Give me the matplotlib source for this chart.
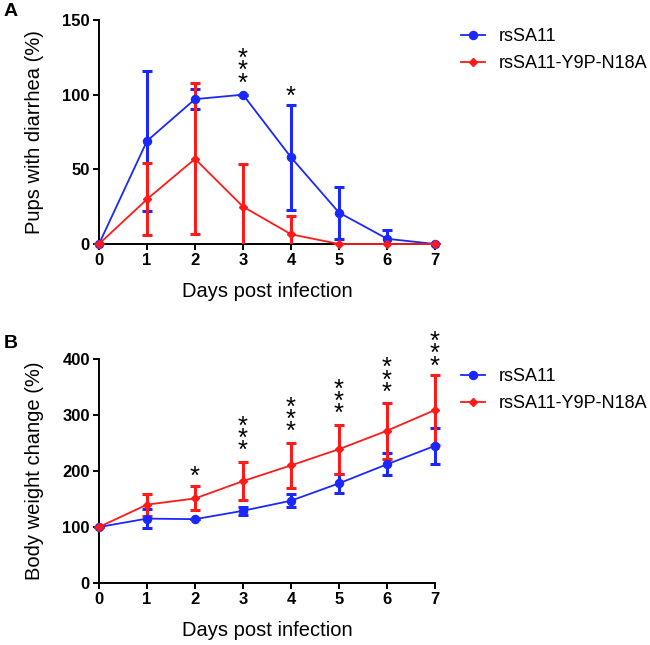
import matplotlib
matplotlib.use("Agg")
import matplotlib.pyplot as plt
from matplotlib.patches import Rectangle

plt.rcParams["font.family"] = ["Arial", "Liberation Sans", "DejaVu Sans"]

# =========================
# Data
# =========================
days = [0, 1, 2, 3, 4, 5, 6, 7]
labels = ["rsSA11", "rsSA11-Y9P-N18A"]

# Panel A: pups with diarrhea (%)
diar_wt = [0, 69, 97, 100, 58, 21, 3.5, 0]
diar_wt_err = [0, 47, 6.5, 0, 35, 17.5, 6, 0]
diar_mut = [0, 30, 57, 25, 6.5, 0, 0, 0]
diar_mut_err = [0, 24, 50.5, 28.5, 12.5, 0, 0, 0]
stars_a = {3: 3, 4: 1}            # day -> number of asterisks
stars_a_y = {3: 120.5, 4: 103.5}  # centre of the asterisk stack

# Panel B: body weight change (%)
bw_wt = [100, 115, 114, 129, 147, 178, 212, 245]
bw_wt_err = [0, 17, 0, 7, 12, 17, 20, 32]
bw_mut = [100, 140, 151, 182, 210, 239, 272, 309]
bw_mut_err = [0, 19.5, 21.5, 34, 40, 44, 50, 62]
stars_b = {2: 1, 3: 3, 4: 3, 5: 3, 6: 3, 7: 3}
stars_b_y = {2: 203.5, 3: 270, 4: 304, 5: 336, 6: 374, 7: 421.5}

BLUE = "#1a28ff"
RED = "#ff1a1a"
STAR_FS = 18.5
STAR_STEP = 8.3  # points between stacked asterisks


def draw_panel(ax, wt, wt_err, mut, mut_err, ymax, ystep, ylabel, stars, stars_y):
    # clip error bars at the x axis only (not at the left/right edges)
    clip = Rectangle((-0.1, 0), 1.2, 2, transform=ax.transAxes)
    for vals, err, col, z in [(wt, wt_err, BLUE, 2), (mut, mut_err, RED, 3)]:
        eb = ax.errorbar(days, vals, yerr=err, fmt="none", ecolor=col, elinewidth=2.2,
                         capsize=3.6, capthick=2.2, zorder=z)
        for art in eb.lines[1] + eb.lines[2]:
            art.set_clip_path(clip)

    ax.plot(days, wt, color=BLUE, lw=1.3, marker="o", ms=5.8, label=labels[0],
            clip_on=False, zorder=4)
    ax.plot(days, mut, color=RED, lw=1.3, marker="D", ms=3.6, label=labels[1],
            clip_on=False, zorder=5)

    # stacked significance asterisks, one text per day
    line_h = 1.16 * STAR_FS
    for d, n in stars.items():
        dy = -(n - 1) / 2 * STAR_STEP - 0.58 * STAR_FS
        ax.annotate("\n".join(["*"] * n), xy=(d, stars_y[d]), xytext=(0, dy),
                    textcoords="offset points", ha="center", va="baseline",
                    fontsize=STAR_FS, linespacing=STAR_STEP / line_h,
                    annotation_clip=False)

    ax.set_xlim(0, 7)
    ax.set_ylim(0, ymax)
    ax.set_xticks(days)
    ax.set_yticks(range(0, ymax + 1, ystep))
    ax.set_xlabel("Days post infection", fontsize=14.5, labelpad=10)
    ax.set_ylabel(ylabel, fontsize=14.5, labelpad=13)
    for sp in ["top", "right"]:
        ax.spines[sp].set_visible(False)
    for sp in ["left", "bottom"]:
        ax.spines[sp].set_linewidth(1.4)
    ax.tick_params(width=1.4, length=4.5, labelsize=12, pad=2)
    for t in ax.get_xticklabels() + ax.get_yticklabels():
        t.set_fontweight("bold")


fig = plt.figure(figsize=(6.5, 6.45), dpi=100)
ax_a = fig.add_axes([0.1523, 0.6217, 0.517, 0.3473])
ax_b = fig.add_axes([0.1523, 0.0961, 0.517, 0.3473])

draw_panel(ax_a, diar_wt, diar_wt_err, diar_mut, diar_mut_err, 150, 50,
           "Pups with diarrhea (%)", stars_a, stars_a_y)
draw_panel(ax_b, bw_wt, bw_wt_err, bw_mut, bw_mut_err, 400, 100,
           "Body weight change (%)", stars_b, stars_b_y)

leg_kw = dict(loc="upper left", frameon=False, fontsize=13, handlelength=1.33,
              handletextpad=0.75, labelspacing=0.55, borderaxespad=0)
ax_a.legend(bbox_to_anchor=(1.057, 0.996), **leg_kw)
ax_b.legend(bbox_to_anchor=(1.057, 0.991), **leg_kw)

fig.text(0.006, 0.995, "A", fontsize=14, fontweight="bold", va="top")
fig.text(0.006, 0.481, "B", fontsize=14, fontweight="bold", va="top")

fig.savefig("out.png", dpi=100)
